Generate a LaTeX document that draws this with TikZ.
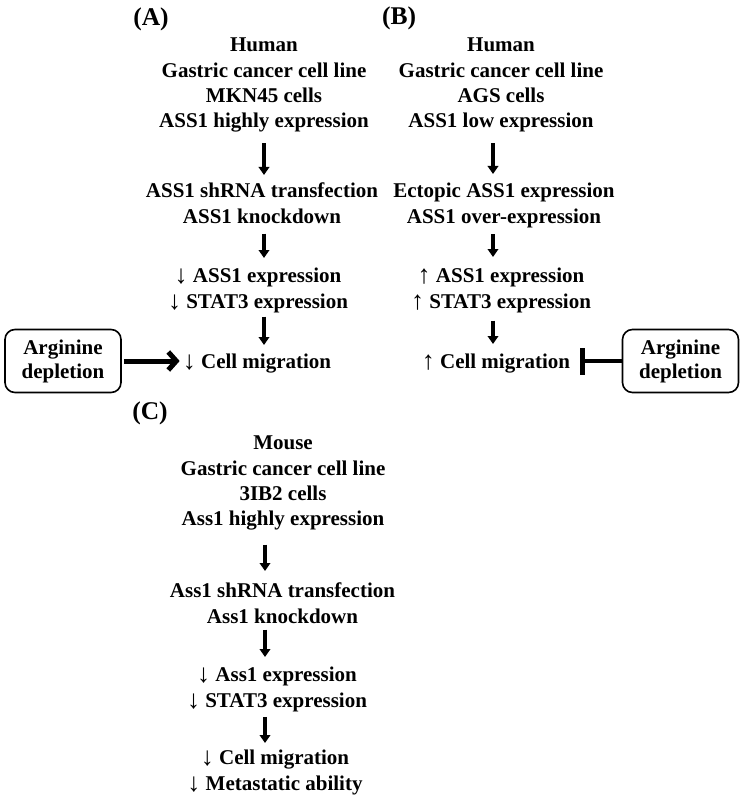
\documentclass[tikz,border=0pt]{standalone}
\usepackage{fontspec}
\setmainfont{Liberation Serif}
\usetikzlibrary{arrows.meta}
\newcommand{\dn}{\raisebox{-1pt}{\mdseries\fontsize{26}{26}\selectfont ↓}}
\newcommand{\upa}{\raisebox{-1pt}{\mdseries\fontsize{26}{26}\selectfont ↑}}
\begin{document}
\begin{tikzpicture}[x=1pt,y=-1pt,
  txt/.style={font=\bfseries\fontsize{21}{25.3}\selectfont, align=center, inner sep=0pt, anchor=north},
  lbl/.style={font=\bfseries\fontsize{25.5}{30}\selectfont, inner sep=0pt},
  varrow/.style={line width=4.5pt, -{Triangle[width=10.5pt,length=8pt]}},
  harrow/.style={line width=5pt, -{Straight Barb[length=8pt,width=18pt]}},
  inhib/.style={line width=4.5pt, -{Bar[width=27pt]}},
  argbox/.style={draw, line width=1.6pt, rounded corners=10pt, minimum width=116pt, minimum height=63pt, align=center, inner sep=0pt, font=\bfseries\fontsize{21}{24}\selectfont}
]
\useasboundingbox (0,0) rectangle (744,802);
% labels
\node[lbl] (la) at (151,19) {(A)};
\node[lbl] (lb) at (399,18) {(B)};
\node[lbl] (lc) at (150,413) {(C)};
% x positions of the vertical arrows
\coordinate (ax) at (264,0);
\coordinate (bx) at (493,0);
\coordinate (cx) at (265,0);
% (A)
\node[txt] (a1) at (264,38) {Human\\Gastric cancer cell line\\MKN45 cells\\ASS1 highly expression};
\node[txt] (a2) at (262,183) {ASS1 shRNA transfection\\ASS1 knockdown};
\node[txt] (a3) at (258,268) {\dn{} ASS1 expression\\\dn{} STAT3 expression};
\node[txt] (a4) at (257,354) {\dn{} Cell migration};
\node[argbox] (boxa) at (63,361) {Arginine\\depletion};
% (B)
\node[txt] (b1) at (501,38) {Human\\Gastric cancer cell line\\AGS cells\\ASS1 low expression};
\node[txt] (b2) at (504,183) {Ectopic ASS1 expression\\ASS1 over-expression};
\node[txt] (b3) at (501,268) {\upa{} ASS1 expression\\\upa{} STAT3 expression};
\node[txt] (b4) at (496,354) {\upa{} Cell migration};
\node[argbox] (boxb) at (680.5,361) {Arginine\\depletion};
% (C)
\node[txt] (c1) at (283,436) {Mouse\\Gastric cancer cell line\\3IB2 cells\\Ass1 highly expression};
\node[txt] (c2) at (282.5,583) {Ass1 shRNA transfection\\Ass1 knockdown};
\node[txt] (c3) at (277,667) {\dn{} Ass1 expression\\\dn{} STAT3 expression};
\node[txt] (c4) at (275,750) {\dn{} Cell migration\\\dn{} Metastatic ability};
% vertical arrows
\draw[varrow, shorten <=10.5pt, shorten >=8pt] (a1.south -| ax) -- (a2.north -| ax);
\draw[varrow, shorten <=10pt, shorten >=10pt] (a2.south -| ax) -- (a3.north -| ax);
\draw[varrow, shorten <=4pt, shorten >=9pt] (a3.south -| ax) -- (a4.north -| ax);
\draw[varrow, shorten <=10.5pt, shorten >=9pt] (b1.south -| bx) -- (b2.north -| bx);
\draw[varrow, shorten <=6.5pt, shorten >=11pt] (b2.south -| bx) -- (b3.north -| bx);
\draw[varrow, shorten <=8pt, shorten >=10pt] (b3.south -| bx) -- (b4.north -| bx);
\draw[varrow, shorten <=14pt, shorten >=12pt] (c1.south -| cx) -- (c2.north -| cx);
\draw[varrow, shorten <=6pt, shorten >=10pt] (c2.south -| cx) -- (c3.north -| cx);
\draw[varrow, shorten <=5pt, shorten >=7pt] (c3.south -| cx) -- (c4.north -| cx);
% arginine depletion
\draw[harrow, shorten <=2pt, shorten >=3pt] (boxa.east) -- (boxa.east -| a4.west);
\draw[inhib, shorten >=10pt] (boxb.west) -- (boxb.west -| b4.east);
\end{tikzpicture}
\end{document}
